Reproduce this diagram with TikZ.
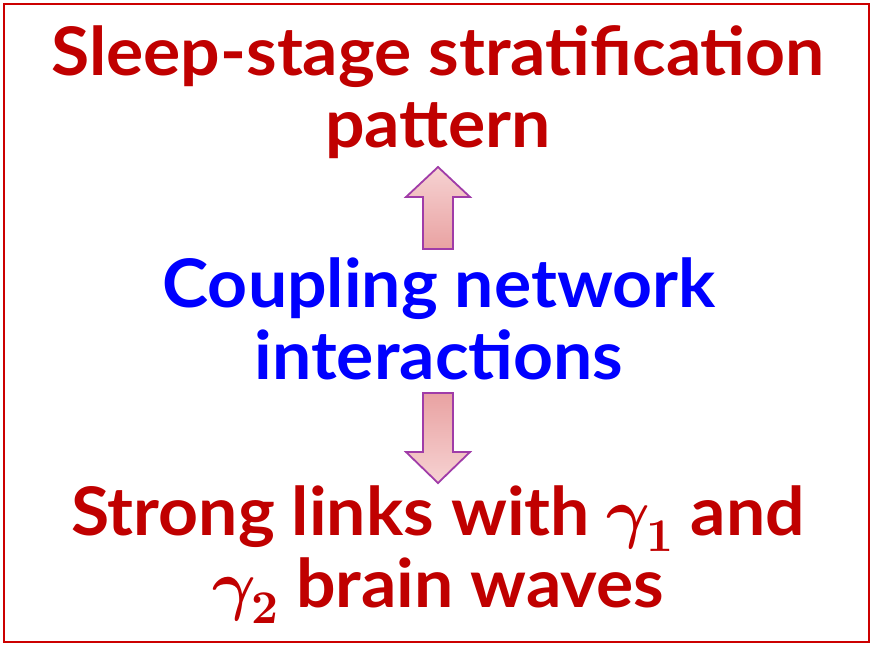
\documentclass[tikz,border=0pt]{standalone}
\usepackage{fontspec}
\usepackage{unicode-math}
\setmainfont{Lato}[FakeStretch=1.04]
\setmathfont{Latin Modern Math}
\definecolor{darkred}{HTML}{C00000}
\definecolor{frame}{HTML}{CC0000}
\definecolor{arrowline}{HTML}{A03CA8}
\definecolor{pinklight}{HTML}{F6D2D2}
\definecolor{pinkdark}{HTML}{E9A2A2}
\newcommand{\gam}[1]{$\symbfit{\gamma}_{\symbf{#1}}$}
\tikzset{
  bigtext/.style={align=center, anchor=base, inner sep=0pt,
    font=\bfseries\fontsize{67}{72}\selectfont},
  blockarrow/.style={draw=arrowline, line width=1.8pt, line join=miter},
}
\begin{document}
\begin{tikzpicture}[x=1pt,y=-1pt]
\useasboundingbox (0,0) rectangle (871,645);
\draw[frame, line width=2pt] (4,4) rectangle (869,642);
\node[bigtext, text=darkred] (top) at (438,147) {Sleep-stage stratification\\pattern};
\node[bigtext, text=blue] (mid) at (439,379) {Coupling network\\interactions};
\node[bigtext, text=darkred] (bot) at (438,607) {Strong links with \gam{1} and\\\gam{2} brain waves};
% up arrow
\shade[blockarrow, shading angle=-45, top color=pinklight, bottom color=pinkdark]
  (423,249) -- (423,197) -- (406,197) -- (438,167) -- (470,197) -- (453,197) -- (453,249) -- cycle;
% down arrow
\shade[blockarrow, shading angle=-45, top color=pinkdark, bottom color=pinklight]
  (423,393) -- (453,393) -- (453,452) -- (470,452) -- (438,483) -- (406,452) -- (423,452) -- cycle;
\end{tikzpicture}
\end{document}
